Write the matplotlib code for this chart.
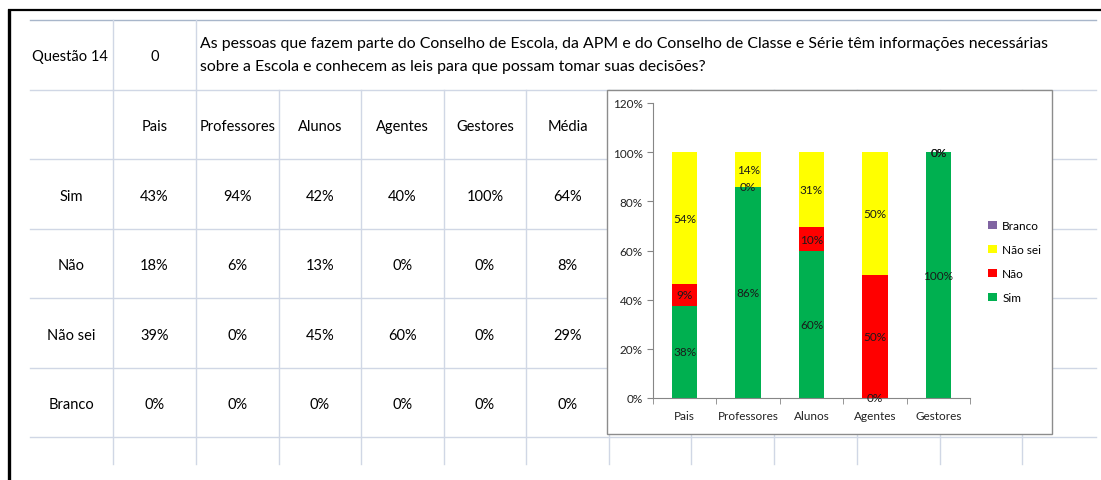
import matplotlib.pyplot as plt
from matplotlib.patches import Rectangle
from matplotlib.ticker import PercentFormatter
import numpy as np

plt.rcParams['font.family'] = ['Lato', 'DejaVu Sans']

# planilha: questão e percentuais por grupo
questao = 'Questão 14'
questao_num = '0'
pergunta = ['As pessoas que fazem parte do Conselho de Escola, da APM e do Conselho de Classe e Série têm informações necessárias',
            'sobre a Escola e conhecem as leis para que possam tomar suas decisões?']
grupos = ['Pais', 'Professores', 'Alunos', 'Agentes', 'Gestores', 'Média']
respostas = ['Sim', 'Não', 'Não sei', 'Branco']
tab_sim = [43, 94, 42, 40, 100, 64]
tab_nao = [18, 6, 13, 0, 0, 8]
tab_nao_sei = [39, 0, 45, 60, 0, 29]
tab_branco = [0, 0, 0, 0, 0, 0]

# gráfico empilhado (percentual de cada resposta por grupo)
graf_grupos = ['Pais', 'Professores', 'Alunos', 'Agentes', 'Gestores']
graf_sim = [37.6, 86.0, 59.6, 0.0, 100.0]
graf_nao = [8.7, 0.0, 9.8, 50.0, 0.0]
graf_nao_sei = [53.7, 14.0, 30.6, 50.0, 0.0]
graf_branco = [0.0, 0.0, 0.0, 0.0, 0.0]

W, H = 1101, 481
fig = plt.figure(figsize=(W / 100, H / 100), dpi=100)
bg = fig.add_axes([0, 0, 1, 1])
bg.set_xlim(0, W)
bg.set_ylim(H, 0)
bg.axis('off')

# grade da planilha
grid = '#D0D7E5'
col_x = [113, 196, 279, 361, 444, 526, 609, 691, 774, 857, 940, 1022]
row_y = [91, 160, 230, 299, 369, 438]
bg.plot([30, 1096], [21, 21], color='#A8B6CA', lw=1)
for y in row_y:
    bg.plot([30, 1096], [y, y], color=grid, lw=1)
for x in col_x[:2]:
    bg.plot([x, x], [21, 91], color=grid, lw=1)
for x in col_x:
    bg.plot([x, x], [91, 465], color=grid, lw=1)

# moldura preta
bg.plot([9, 9], [10, H], color='black', lw=2.4, solid_capstyle='butt')
bg.plot([8, W], [11, 11], color='black', lw=1.6, solid_capstyle='butt')

fs = 10.5
bg.text(32, 57, questao, fontsize=fs, ha='left', va='center')
bg.text(154.5, 57, questao_num, fontsize=fs, ha='center', va='center')
bg.text(200, 44, pergunta[0], fontsize=11.4, ha='left', va='center')
bg.text(200, 67, pergunta[1], fontsize=11.4, ha='left', va='center')

centros = [(col_x[i] + col_x[i + 1]) / 2 for i in range(6)]
for cx, g in zip(centros, grupos):
    bg.text(cx, 127, g, fontsize=fs, ha='center', va='center')

linhas = [tab_sim, tab_nao, tab_nao_sei, tab_branco]
for i, (nome, vals) in enumerate(zip(respostas, linhas)):
    yc = (row_y[i + 1] + row_y[i + 2]) / 2 + 2
    bg.text(71.5, yc, nome, fontsize=fs, ha='center', va='center')
    for cx, v in zip(centros, vals):
        bg.text(cx, yc, f'{v}%', fontsize=fs, ha='center', va='center')

# área do gráfico
bg.add_patch(Rectangle((607, 91), 445, 344, facecolor='white', edgecolor='#8C8C8C', lw=1, zorder=5))

ax = fig.add_axes([653 / W, (H - 399) / H, (970 - 653) / W, (399 - 104) / H])
ax.set_facecolor('none')

x = np.arange(len(graf_grupos))
base = np.zeros(len(graf_grupos))
series = [(graf_sim, 'Sim', '#00B050'),
          (graf_nao, 'Não', '#FF0000'),
          (graf_nao_sei, 'Não sei', '#FFFF00'),
          (graf_branco, 'Branco', '#8064A2')]
handles = []
for vals, nome, cor in series:
    v = np.array(vals) / 100
    b = ax.bar(x, v, 0.4, bottom=base, color=cor, label=nome)
    handles.append(b)
    if nome != 'Branco':
        for xi, bi, vi in zip(x, base, v):
            ax.text(xi, bi + vi / 2, f'{vi:.0%}', ha='center', va='center', fontsize=8.5, color='#1a1a1a')
    base += v

cinza = '#868686'
ax.set_ylim(0, 1.2)
ax.set_yticks(np.arange(0, 1.21, 0.2))
ax.yaxis.set_major_formatter(PercentFormatter(1, decimals=0))
ax.set_xlim(-0.5, len(graf_grupos) - 0.5)
ax.set_xticks(x, graf_grupos)
ax.set_xticks(np.arange(-0.5, len(graf_grupos), 1), minor=True)
ax.tick_params(axis='x', which='major', length=0, pad=9, labelsize=8.5, labelcolor='#222222')
ax.tick_params(axis='x', which='minor', length=4, color=cinza)
ax.tick_params(axis='y', length=4, color=cinza, pad=3.5, labelsize=8.5, labelcolor='#222222')
for s in ['top', 'right']:
    ax.spines[s].set_visible(False)
for s in ['left', 'bottom']:
    ax.spines[s].set_color(cinza)

ax.legend(handles[::-1], [h.get_label() for h in handles[::-1]],
          loc='upper left', bbox_to_anchor=(988 / W, (H - 221) / H), bbox_transform=fig.transFigure,
          frameon=False, fontsize=8.5, handlelength=0.75, handleheight=0.75, handletextpad=0.45,
          labelspacing=1.1, borderpad=0, borderaxespad=0)

fig.savefig('out.png', dpi=100)
